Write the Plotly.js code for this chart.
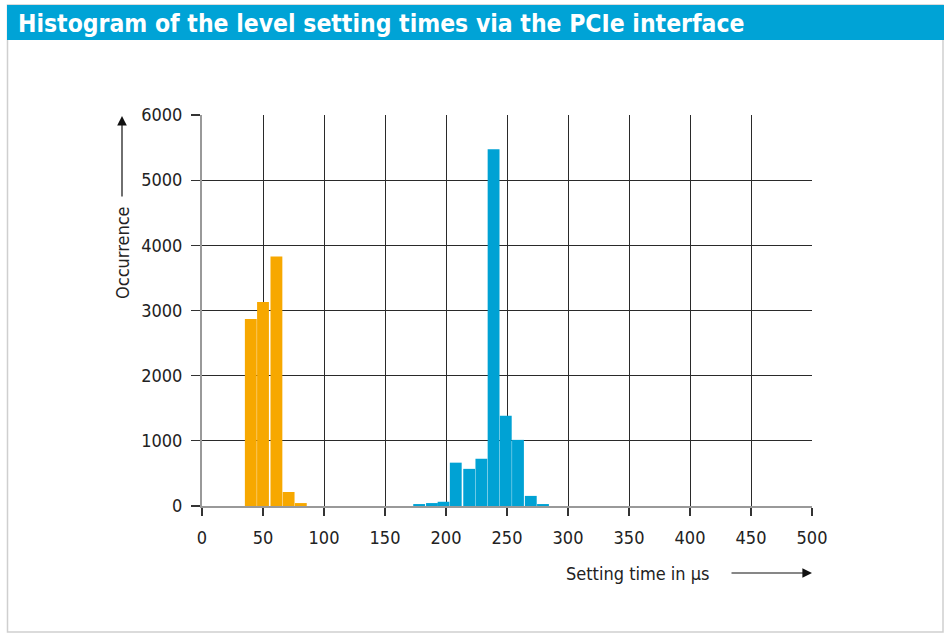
<!DOCTYPE html>
<html>
<head>
<meta charset="utf-8">
<script src="https://cdn.plot.ly/plotly-3.0.1.min.js"></script>
<style>
html,body{margin:0;padding:0;background:#fff;}
#chart{width:944px;height:635px;}
</style>
</head>
<body>
<div id="chart"></div>
<script>
// ---- data ----
const chartTitle = "Histogram of the level setting times via the PCIe interface";
const xTitle = "Setting time in µs";
const yTitle = "Occurrence";

const pcieFastCenters = [40, 50, 61, 71, 81];          // µs (bin centres)
const pcieFastCounts  = [2870, 3130, 3830, 215, 45];

const pcieSlowCenters = [178, 188.5, 198, 208, 219, 229, 239, 249, 259, 269.5, 279.5];
const pcieSlowCounts  = [30, 45, 65, 665, 570, 725, 5475, 1385, 1015, 155, 30];

const xTickVals = [0, 50, 100, 150, 200, 250, 300, 350, 400, 450, 500];
const yTickVals = [0, 1000, 2000, 3000, 4000, 5000, 6000];

// ---- layout helpers ----
const W = 944, H = 635;
const M = {l: 202, r: 132, t: 115, b: 129};
const PW = W - M.l - M.r, PH = H - M.t - M.b;
const px = v => (v - M.l) / PW;          // pixel x -> paper x
const py = v => (H - M.b - v) / PH;       // pixel y -> paper y

const FONT = '"Liberation Sans Narrow", "DejaVu Sans Condensed", "Roboto Condensed", Arial, sans-serif';
const ORANGE = '#f7a800';
const BLUE = '#00a2d4';
const binW = 9.7;

const traces = [
  {type: 'bar', x: pcieFastCenters, y: pcieFastCounts,
   width: pcieFastCenters.map(() => binW),
   marker: {color: ORANGE, line: {width: 0}}, hoverinfo: 'x+y'},
  {type: 'bar', x: pcieSlowCenters, y: pcieSlowCounts,
   width: pcieSlowCenters.map(() => binW),
   marker: {color: BLUE, line: {width: 0}}, hoverinfo: 'x+y'}
];

const layout = {
  width: W, height: H,
  margin: M,
  paper_bgcolor: '#fff', plot_bgcolor: '#fff',
  showlegend: false,
  barmode: 'overlay',
  font: {family: FONT, size: 18, color: '#222'},
  title: {
    text: chartTitle,
    xref: 'container', yref: 'container',
    x: 18 / W, xanchor: 'left',
    y: 1 - 23 / H, yanchor: 'middle',
    font: {family: FONT, size: 24.5, color: '#fff', weight: 'bold'}
  },
  xaxis: {
    range: [0, 500], tickvals: xTickVals, ticktext: xTickVals.map(String),
    showgrid: true, gridcolor: '#2a2a2a', gridwidth: 1,
    zeroline: false, showline: true, linecolor: '#999', linewidth: 2,
    ticks: 'outside', ticklen: 8, tickcolor: '#333', tickwidth: 1.2,
    ticklabelstandoff: 6,
    tickfont: {family: FONT, size: 18, color: '#222'},
    fixedrange: true
  },
  yaxis: {
    range: [0, 6000], tickvals: yTickVals, ticktext: yTickVals.map(String),
    showgrid: true, gridcolor: '#2a2a2a', gridwidth: 1,
    zeroline: false, showline: true, linecolor: '#999', linewidth: 2,
    ticks: 'outside', ticklen: 9, tickcolor: '#333', tickwidth: 1.2,
    ticklabelstandoff: 5,
    tickfont: {family: FONT, size: 18, color: '#222'},
    fixedrange: true
  },
  shapes: [
    // frame around the figure
    {type: 'rect', xref: 'paper', yref: 'paper', layer: 'below',
     x0: px(7.5), x1: px(943), y0: py(632), y1: py(5),
     line: {color: '#cfcfcf', width: 1.5}, fillcolor: 'rgba(0,0,0,0)'},
    // title band
    {type: 'rect', xref: 'paper', yref: 'paper', layer: 'below',
     x0: px(7), x1: px(944), y0: py(40), y1: py(5),
     line: {width: 0}, fillcolor: '#00a3d6'}
  ],
  annotations: [
    // y-axis title
    {xref: 'paper', yref: 'paper', x: px(122), y: py(253), text: yTitle,
     showarrow: false, textangle: -90, font: {family: FONT, size: 18, color: '#222'},
     xanchor: 'center', yanchor: 'middle'},
    // y arrow
    {xref: 'paper', yref: 'paper', x: px(122), y: py(116), ax: 0, ay: 82,
     text: '', showarrow: true, arrowhead: 2, arrowsize: 1.6, arrowwidth: 1.2, arrowcolor: '#111'},
    // x-axis title
    {xref: 'paper', yref: 'paper', x: px(712), y: py(573), text: xTitle,
     showarrow: false, font: {family: FONT, size: 18, color: '#222'},
     xanchor: 'right', yanchor: 'middle'},
    // x arrow
    {xref: 'paper', yref: 'paper', x: px(812), y: py(573), ax: -82, ay: 0,
     text: '', showarrow: true, arrowhead: 2, arrowsize: 1.6, arrowwidth: 1.2, arrowcolor: '#111'}
  ]
};

Plotly.newPlot('chart', traces, layout, {displayModeBar: false, staticPlot: true});
</script>
</body>
</html>
